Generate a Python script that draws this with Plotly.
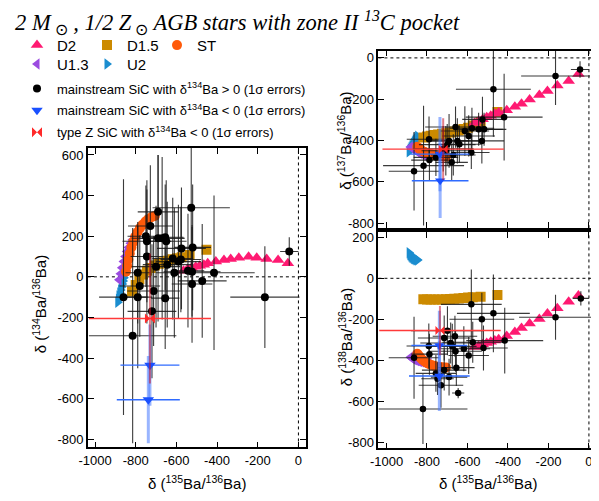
import plotly.graph_objects as go

# ---------------- model curves (delta 135 shared; 134 / 137 / 138 per panel) ----------------
d2_x135 = [-565, -545, -525, -505, -485, -465, -446, -406, -366, -333, -293, -245, -205, -156, -100, -52]
d2_y134 = [30, 38, 45, 50, 55, 60, 67, 75, 83, 88, 94, 99, 94, 88, 83, 67]
d2_y137 = [-315, -306, -297, -288, -280, -271, -264, -253, -237, -222, -202, -180, -160, -134, -112, -78]
d2_y138 = [-335, -330, -322, -316, -310, -303, -298, -282, -262, -242, -221, -199, -172, -146, -114, -84]

d15_x135 = [-818, -800, -782, -764, -745, -726, -706, -686, -665, -643, -620, -597, -574, -535, -452]
d15_y134 = [-72, -40, -12, 12, 30, 44, 56, 64, 72, 79, 86, 92, 97, 108, 133]
d15_y137 = [-385, -381, -377, -374, -371, -368, -365, -361, -357, -352, -345, -338, -328, -310, -262]
d15_y138 = [-102, -103, -104, -104, -104, -103, -102, -101, -100, -98, -96, -94, -93, -90, -82]

st_x135 = [-848, -842, -836, -829, -821, -812, -802, -791, -779, -766, -752, -738, -722, -706]
st_y134 = [25, 55, 85, 115, 145, 172, 198, 220, 240, 257, 272, 284, 294, 300]
st_y137 = [-430, -436, -442, -447, -452, -456, -460, -464, -467, -470, -473, -475, -477, -479]
st_y138 = [-368, -375, -383, -391, -399, -406, -412, -418, -423, -427, -430, -432, -434, -435]

u13_x135 = [-882, -875, -868, -860, -852, -844, -836, -826, -816, -806, -796, -790]
u13_y134 = [-15, 15, 45, 75, 100, 125, 145, 165, 182, 198, 212, 220]
u13_y137 = [-432, -437, -442, -447, -452, -457, -462, -466, -470, -474, -478, -480]
u13_y138 = [-385, -390, -395, -398, -401, -404, -406, -408, -410, -412, -414, -415]

u2_x135 = [-888, -885, -882, -878, -874, -870, -866, -862, -858, -854, -850, -846]
u2_y134 = [-125, -110, -95, -80, -65, -50, -35, -20, -5, 10, 22, 30]
u2_y137 = [-455, -448, -441, -434, -427, -420, -413, -406, -399, -392, -386, -380]
u2_y138 = [125, 118, 112, 107, 103, 100, 97, 95, 93, 91, 90, 89]

# ---------------- grains: left panel (delta134 vs delta135) ----------------
ms134_x = [-860, -815, -790, -790, -780, -750, -745, -745, -728, -712, -720, -700, -690, -690, -670, -655, -655,
           -650, -645, -618, -610, -590, -578, -575, -543, -527, -523, -520, -523, -473, -415, -165, -45]
ms134_xerr = [120, 215, 60, 70, 100, 90, 120, 80, 110, 130, 120, 120, 100, 130, 110, 90, 70,
              100, 120, 100, 90, 110, 100, 120, 80, 190, 140, 90, 100, 120, 200, 170, 45]
ms134_y = [-100, -290, 20, -100, -45, 200, 175, 100, 250, -70, -170, 50, 320, 190, 190, 195, -105,
           175, 60, 90, 20, 75, 85, 140, 30, 340, 25, 145, -35, -20, 20, -100, 125]
ms134_yerr = [580, 530, 250, 350, 250, 250, 300, 330, 300, 270, 330, 300, 280, 410, 400, 260, 250,
              300, 310, 300, 320, 280, 260, 300, 280, 310, 220, 310, 290, 280, 380, 250, 70]

neg134_x = [-730, -738]
neg134_xerr = [145, 155]
neg134_y = [-435, -605]
neg134_yerr = [200, 215]

z134_x = [-730]
z134_xerr = [300]
z134_y = [-205]
z134_yerr = [320]

# ---------------- grains: top right (delta137 vs delta135) ----------------
ms137_x = [-864, -817, -790, -788, -756, -707, -700, -691, -678, -659, -650, -640, -613,
           -594, -581, -578, -545, -529, -526, -518, -472, -419, -165, -44, -720, -670]
ms137_xerr = [125, 200, 110, 90, 110, 120, 140, 100, 80, 150, 130, 110, 120,
              130, 90, 110, 120, 110, 100, 110, 185, 190, 170, 45, 150, 110]
ms137_y = [-549, -522, -394, -495, -482, -450, -420, -402, -506, -335, -402, -418, -354,
           -378, -458, -341, -346, -402, -298, -346, -152, -287, -88, -56, -440, -470]
ms137_yerr = [190, 290, 110, 100, 90, 120, 100, 130, 90, 100, 110, 90, 120,
              100, 80, 100, 80, 110, 110, 80, 230, 210, 140, 40, 110, 100]

neg137_x = [-736, -735]
neg137_xerr = [146, 140]
neg137_y = [-466, -595]
neg137_yerr = [180, 180]

z137_x = [-720]
z137_xerr = [300]
z137_y = [-442]
z137_yerr = [150]

# ---------------- grains: bottom right (delta138 vs delta135) ----------------
ms138_x = [-864, -820, -791, -788, -756, -748, -731, -715, -699, -715, -691, -683, -675, -662,
           -659, -655, -646, -618, -594, -581, -574, -529, -521, -472, -416, -165, -40]
ms138_xerr = [125, 220, 110, 90, 100, 80, 110, 110, 180, 130, 90, 150, 120, 110,
              130, 90, 30, 130, 100, 150, 150, 160, 120, 180, 190, 180, 40]
ms138_y = [-388, -638, -330, -370, -464, -490, -522, -448, -256, -291, -482, -316, -332, -283,
           -356, -436, -560, -344, -377, -127, -312, -200, -340, -171, -304, -190, -98]
ms138_yerr = [200, 170, 110, 100, 90, 80, 110, 100, 120, 110, 90, 100, 110, 100,
              100, 90, 25, 110, 90, 170, 100, 130, 110, 190, 160, 110, 35]

neg138_x = [-739, -739]
neg138_xerr = [138, 150]
neg138_y = [-328, -477]
neg138_yerr = [170, 170]

z138_x = [-736]
z138_xerr = [300]
z138_y = [-255]
z138_yerr = [120]

tick_x = [-1000, -800, -600, -400, -200, 0]
tick_x_text = ["-1000", "-800", "-600", "-400", "-200", "0"]
tick_y_left = [-800, -600, -400, -200, 0, 200, 400, 600]
tick_y_tr = [-800, -600, -400, -200, 0]
tick_y_br = [-800, -600, -400, -200, 0, 200]

# ---------------- colours ----------------
C_D2 = "#ff1a72"
C_D15 = "#cc8a00"
C_ST = "#ff5a0a"
C_U13 = "#9b4be0"
C_U2 = "#1b8dcf"
C_BLACK = "#000000"
C_BLUE = "#1a50ff"
C_RED = "#ff2a2a"

FONT = "Liberation Sans"
# the page body adds an 8 px offset; the figure is sized so it ends at the window edge
OFF = 8
W, H = 599 - OFF, 501 - OFF

fig = go.Figure()
axes = [("x", "y"), ("x2", "y2"), ("x3", "y3")]

models = [
    ("U2", u2_x135, [u2_y134, u2_y137, u2_y138], "triangle-right", C_U2, 10, "legend2", 5),
    ("U1.3", u13_x135, [u13_y134, u13_y137, u13_y138], "triangle-left", C_U13, 10, "legend2", 4),
    ("ST", st_x135, [st_y134, st_y137, st_y138], "circle", C_ST, 10, "legend", 3),
    ("D1.5", d15_x135, [d15_y134, d15_y137, d15_y138], "square", C_D15, 10, "legend", 2),
    ("D2", d2_x135, [d2_y134, d2_y137, d2_y138], "triangle-up", C_D2, 11, "legend", 1),
]
for name, xs, ys_list, sym, col, size, leg, rank in models:
    for i, (xa, ya) in enumerate(axes):
        fig.add_trace(go.Scatter(
            x=xs, y=ys_list[i], xaxis=xa, yaxis=ya, mode="markers", name=name,
            marker=dict(symbol=sym, color=col, size=size, line=dict(width=0)),
            legendgroup=name, showlegend=(i == 0), legend=leg, legendrank=rank,
            hoverinfo="skip"))

grain_sets = [
    ("mainstream SiC with δ<sup>134</sup>Ba > 0 (1σ errors)", "circle", C_BLACK,
     [(ms134_x, ms134_xerr, ms134_y, ms134_yerr), (ms137_x, ms137_xerr, ms137_y, ms137_yerr),
      (ms138_x, ms138_xerr, ms138_y, ms138_yerr)],
     [8, 6.5, 6.5], "rgba(25,25,25,0.85)", 1.1, "rgba(25,25,25,0.85)", 1.1, 6),
    ("mainstream SiC with δ<sup>134</sup>Ba < 0 (1σ errors)", "triangle-down", C_BLUE,
     [(neg134_x, neg134_xerr, neg134_y, neg134_yerr), (neg137_x, neg137_xerr, neg137_y, neg137_yerr),
      (neg138_x, neg138_xerr, neg138_y, neg138_yerr)],
     [10, 9, 9], "#2f6bff", 1.4, "rgba(70,120,255,0.55)", 3, 7),
    ("type Z SiC with δ<sup>134</sup>Ba < 0 (1σ errors)", "bowtie", C_RED,
     [(z134_x, z134_xerr, z134_y, z134_yerr), (z137_x, z137_xerr, z137_y, z137_yerr),
      (z138_x, z138_xerr, z138_y, z138_yerr)],
     [10, 9, 9], "#ff3a3a", 1.4, "rgba(200,20,40,0.55)", 2, 8),
]
for name, sym, col, data, sizes, ex_col, ex_w, ey_col, ey_w, rank in grain_sets:
    for i, (xa, ya) in enumerate(axes):
        gx, gxe, gy, gye = data[i]
        fig.add_trace(go.Scatter(
            x=gx, y=gy, xaxis=xa, yaxis=ya, mode="markers", name=name,
            marker=dict(symbol=sym, color=col, size=sizes[i], line=dict(width=0)),
            error_x=dict(type="data", array=gxe, color=ex_col, thickness=ex_w, width=0),
            error_y=dict(type="data", array=gye, color=ey_col, thickness=ey_w, width=0),
            legendgroup=name, showlegend=(i == 0), legend="legend3", legendrank=rank,
            hoverinfo="skip"))

# helpers: page pixel (as seen in the screenshot) -> paper fraction
def fx(px):
    return (px - OFF) / W

def fy(py):
    return (H - (py - OFF)) / H

def px_x(a, b):
    return [fx(a), fx(b)]

def px_y(top, bottom):
    return [fy(bottom), fy(top)]

axis_common = dict(showline=True, linecolor="black", linewidth=1.5, mirror="ticks",
                   ticks="inside", ticklen=6, tickwidth=1.2, tickcolor="black",
                   showgrid=False, zeroline=False,
                   tickfont=dict(family=FONT, size=13, color="black"))

fig.update_layout(
    width=W, height=H, margin=dict(l=0, r=0, t=0, b=0),
    paper_bgcolor="white", plot_bgcolor="white",
    xaxis=dict(domain=px_x(80, 301), range=[-1035, 35], anchor="y",
               tickvals=tick_x, ticktext=tick_x_text, **axis_common),
    yaxis=dict(domain=px_y(147, 449), range=[-840, 635], anchor="x",
               tickvals=tick_y_left, ticktext=[str(v) for v in tick_y_left], **axis_common),
    xaxis2=dict(domain=px_x(375, 597), range=[-1040, 40], anchor="y2",
                tickvals=tick_x, ticktext=tick_x_text, showticklabels=False, **axis_common),
    yaxis2=dict(domain=px_y(49, 228), range=[-825, 35], anchor="x2",
                tickvals=tick_y_tr, ticktext=[str(v) for v in tick_y_tr], **axis_common),
    xaxis3=dict(domain=px_x(375, 597), range=[-1040, 40], anchor="y3",
                tickvals=tick_x, ticktext=tick_x_text, **axis_common),
    yaxis3=dict(domain=px_y(232, 450), range=[-830, 225], anchor="x3",
                tickvals=tick_y_br, ticktext=[str(v) for v in tick_y_br], **axis_common),
    legend=dict(x=fx(8), y=fy(27), xanchor="left", yanchor="top", orientation="h",
                entrywidth=25, entrywidthmode="pixels", bgcolor="rgba(0,0,0,0)",
                font=dict(family=FONT, size=15, color="black")),
    legend2=dict(x=fx(8), y=fy(46), xanchor="left", yanchor="top", orientation="h",
                 entrywidth=25, entrywidthmode="pixels", bgcolor="rgba(0,0,0,0)",
                 font=dict(family=FONT, size=15, color="black")),
    legend3=dict(x=fx(8), y=fy(72), xanchor="left", yanchor="top", orientation="v",
                 bgcolor="rgba(0,0,0,0)", tracegroupgap=2,
                 font=dict(family=FONT, size=13, color="black")),
    showlegend=True,
)

# dotted zero lines
for xa, ya in axes:
    xd = "x domain" if xa == "x" else xa + " domain"
    yd = "y domain" if ya == "y" else ya + " domain"
    fig.add_shape(type="line", xref=xa, yref=yd, x0=0, x1=0, y0=0, y1=1,
                  line=dict(color="black", width=1, dash="dot"), layer="below")
    fig.add_shape(type="line", xref=xd, yref=ya, x0=0, x1=1, y0=0, y1=0,
                  line=dict(color="black", width=1, dash="dot"), layer="below")

title_txt = ("<i>2 M</i><sub> ⊙</sub><i> , 1/2 Z</i><sub> ⊙</sub>"
             "<i> AGB stars with zone II </i><sup><i>13</i></sup><i>C pocket</i>")
ann = [
    dict(text=title_txt, x=fx(4), y=fy(3), xanchor="left", yanchor="top",
         font=dict(family="Liberation Serif", size=22.5, color="black")),
    dict(text="δ (<sup>134</sup>Ba/<sup>136</sup>Ba)", x=fx(31), y=fy(305), textangle=-90,
         xanchor="center", yanchor="middle", font=dict(family=FONT, size=15, color="black")),
    dict(text="δ (<sup>137</sup>Ba/<sup>136</sup>Ba)", x=fx(341), y=fy(140), textangle=-90,
         xanchor="center", yanchor="middle", font=dict(family=FONT, size=15, color="black")),
    dict(text="δ (<sup>138</sup>Ba/<sup>136</sup>Ba)", x=fx(341), y=fy(338), textangle=-90,
         xanchor="center", yanchor="middle", font=dict(family=FONT, size=15, color="black")),
    dict(text="δ (<sup>135</sup>Ba/<sup>136</sup>Ba)", x=fx(191), y=fy(484), xanchor="center",
         yanchor="middle", font=dict(family=FONT, size=15, color="black")),
    dict(text="δ (<sup>135</sup>Ba/<sup>136</sup>Ba)", x=fx(486), y=fy(484), xanchor="center",
         yanchor="middle", font=dict(family=FONT, size=15, color="black")),
]
for a in ann:
    a.update(xref="paper", yref="paper", showarrow=False)
    fig.add_annotation(**a)

fig.write_html("out.html")
